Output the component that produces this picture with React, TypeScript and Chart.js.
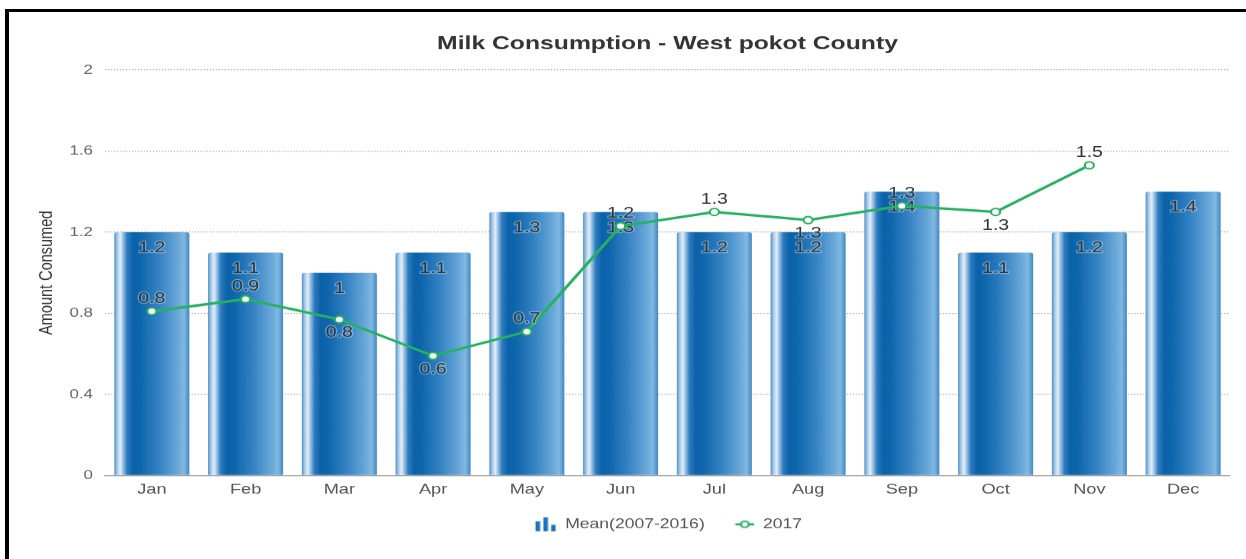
import React, { useEffect, useRef } from 'react';
import { Chart, registerables } from 'chart.js';

Chart.register(...registerables);

// ---- data ----
const months = ['Jan', 'Feb', 'Mar', 'Apr', 'May', 'Jun', 'Jul', 'Aug', 'Sep', 'Oct', 'Nov', 'Dec'];
const meanValues = [1.2, 1.1, 1.0, 1.1, 1.3, 1.3, 1.2, 1.2, 1.4, 1.1, 1.2, 1.4];
const values2017: (number | null)[] = [0.81, 0.87, 0.77, 0.59, 0.71, 1.23, 1.3, 1.26, 1.33, 1.3, 1.53, null];
const labelSide2017 = ['above', 'above', 'below', 'below', 'above', 'above', 'above', 'below', 'above', 'below', 'above', 'above'];
const yTicks = [0, 0.4, 0.8, 1.2, 1.6, 2];
const seriesNames = ['Mean(2007-2016)', '2017'];
const titleText = 'Milk Consumption - West pokot County';
const yTitleText = 'Amount Consumed';

// ---- layout / style ----
const W = 958;
const H = 559;
const SX = 1246 / W;
const LINE_COLOR = '#25b25e';
const ICON_W = 18;
const BAR_STOPS: [number, string][] = [
  [0, '#4a8fca'],
  [0.04, '#a9cbe8'],
  [0.08, '#e3eef8'],
  [0.12, '#8dbbe2'],
  [0.17, '#2d7bbd'],
  [0.25, '#0c62a9'],
  [0.35, '#0f66ac'],
  [0.6, '#3583c3'],
  [0.85, '#6aa8d9'],
  [0.93, '#80b8e1'],
  [0.97, '#5d9dd2'],
  [1, '#3c86c4'],
];

const fmt = (v: number) => String(Math.round(v * 10) / 10);

function makeBarIcon() {
  const c = document.createElement('canvas');
  c.width = ICON_W;
  c.height = 16;
  const g = c.getContext('2d')!;
  g.fillStyle = '#1b72bf';
  const bars: [number, number][] = [[2, 10], [8, 14], [14, 6.5]];
  bars.forEach(([x, h]) => g.fillRect(x, 15 - h, 3.5, h));
  return c;
}

function makeLineIcon() {
  const c = document.createElement('canvas');
  c.width = ICON_W;
  c.height = 16;
  const g = c.getContext('2d')!;
  g.strokeStyle = LINE_COLOR;
  g.lineWidth = 2;
  g.beginPath();
  g.moveTo(3.5, 8);
  g.lineTo(18, 8);
  g.stroke();
  g.beginPath();
  g.arc(10.8, 8, 3, 0, Math.PI * 2);
  g.fillStyle = '#fff';
  g.fill();
  g.lineWidth = 1.6;
  g.stroke();
  return c;
}

const valueLabels = {
  id: 'valueLabels',
  afterDatasetDraw(chart: any, args: any) {
    const ctx = chart.ctx;
    const meta = chart.getDatasetMeta(args.index);
    ctx.save();
    ctx.font = '15px "Liberation Sans", Arial, sans-serif';
    ctx.textAlign = 'center';
    ctx.textBaseline = 'middle';
    ctx.lineJoin = 'round';
    if (args.index === 0) {
      meta.data.forEach((el: any, i: number) => {
        const t = fmt(meanValues[i]);
        ctx.strokeStyle = 'rgba(255,255,255,0.35)';
        ctx.lineWidth = 2;
        ctx.strokeText(t, el.x, el.y + 16);
        ctx.fillStyle = '#333';
        ctx.fillText(t, el.x, el.y + 16);
      });
    } else if (args.index === 1) {
      meta.data.forEach((el: any, i: number) => {
        const v = values2017[i];
        if (v == null) return;
        const t = fmt(v);
        const y = labelSide2017[i] === 'above' ? el.y - 12.5 : el.y + 13.5;
        ctx.strokeStyle = 'rgba(255,255,255,0.35)';
        ctx.lineWidth = 2;
        ctx.strokeText(t, el.x, y);
        ctx.fillStyle = '#333';
        ctx.fillText(t, el.x, y);
      });
    }
    ctx.restore();
  },
};

export default function App() {
  const ref = useRef<HTMLCanvasElement>(null);

  useEffect(() => {
    const canvas = ref.current;
    if (!canvas) return;
    Chart.defaults.font.family = '"Liberation Sans", Arial, sans-serif';
    const barIcon = makeBarIcon();
    const lineIcon = makeLineIcon();

    const barFill = (c: any) => {
      const chart = c.chart;
      const xs = chart.scales?.x;
      if (c.type !== 'data' || !xs || !chart.chartArea) return '#1565a8';
      const cw = xs.width / months.length;
      const bw = cw * 0.8;
      const cx = xs.getPixelForValue(c.dataIndex);
      const g = chart.ctx.createLinearGradient(cx - bw / 2, 0, cx + bw / 2, 0);
      BAR_STOPS.forEach(([o, col]) => g.addColorStop(o, col));
      return g;
    };

    const chart = new Chart(canvas, {
      type: 'bar',
      data: {
        labels: months,
        datasets: [
          {
            type: 'bar',
            label: seriesNames[0],
            data: meanValues,
            backgroundColor: barFill,
            barPercentage: 0.8,
            categoryPercentage: 1,
            borderRadius: { topLeft: 2, topRight: 2, bottomLeft: 0, bottomRight: 0 },
            borderSkipped: 'bottom',
            order: 2,
          },
          {
            type: 'line',
            label: seriesNames[1],
            data: values2017,
            borderColor: LINE_COLOR,
            borderWidth: 2.5,
            pointRadius: 3.5,
            pointBackgroundColor: '#fff',
            pointBorderColor: LINE_COLOR,
            pointBorderWidth: 1.6,
            tension: 0,
            order: 1,
          },
        ],
      } as any,
      options: {
        responsive: false,
        devicePixelRatio: SX,
        animation: false,
        layout: { padding: { left: 0, top: 0, right: 12.3, bottom: 18 } },
        plugins: {
          title: {
            display: true,
            text: titleText,
            fullSize: false,
            color: '#333',
            font: { size: 19, weight: 'bold' },
            padding: { top: 32.4, bottom: 14.8 },
          },
          legend: {
            position: 'bottom',
            fullSize: false,
            labels: {
              usePointStyle: true,
              pointStyleWidth: ICON_W,
              padding: 20,
              color: '#555',
              font: { size: 13.5 },
              sort: (a: any, b: any) => a.datasetIndex - b.datasetIndex,
              generateLabels: (ch: any) => {
                const items = Chart.defaults.plugins.legend.labels.generateLabels(ch);
                return items.map((it: any) => ({
                  ...it,
                  pointStyle: it.datasetIndex === 0 ? barIcon : lineIcon,
                  fontColor: '#555',
                }));
              },
            },
          },
          tooltip: { enabled: false },
        },
        scales: {
          x: {
            grid: { display: false, drawTicks: false },
            border: { display: true, color: '#a0a0a0', width: 1 },
            ticks: { color: '#555', font: { size: 14 }, padding: 6, maxRotation: 0, autoSkip: false },
            afterFit: (s: any) => {
              s.height = 22;
            },
          },
          y: {
            min: 0,
            max: 2,
            grid: { color: '#a8a8a8', lineWidth: 1, drawTicks: false },
            border: { display: false, dash: [1, 1.3] },
            ticks: {
              color: '#666',
              font: { size: 13 },
              padding: 9.2,
              callback: (v: any) => fmt(Number(v)),
            },
            afterBuildTicks: (s: any) => {
              s.ticks = yTicks.map((v) => ({ value: v }));
            },
            title: {
              display: true,
              text: yTitleText,
              color: '#333',
              font: { size: 14.5 },
              padding: { top: 27.4, bottom: 0 },
            },
            afterFit: (s: any) => {
              s.width = 80.7;
            },
          },
        },
      } as any,
      plugins: [valueLabels],
    });
    return () => chart.destroy();
  }, []);

  return (
    <div style={{ position: 'fixed', left: 0, top: 0, width: 1246, height: 559, overflow: 'hidden', background: '#fff' }}>
      <div style={{ position: 'absolute', left: 0, top: 0, width: W, height: H, transform: `scaleX(${SX})`, transformOrigin: '0 0' }}>
        <canvas ref={ref} width={W} height={H} style={{ display: 'block', width: W, height: H }} />
      </div>
      <div
        style={{
          position: 'absolute',
          left: 5,
          top: 9,
          width: 1300,
          height: 600,
          borderTop: '3px solid #000',
          borderLeft: '4px solid #000',
          pointerEvents: 'none',
        }}
      />
    </div>
  );
}
